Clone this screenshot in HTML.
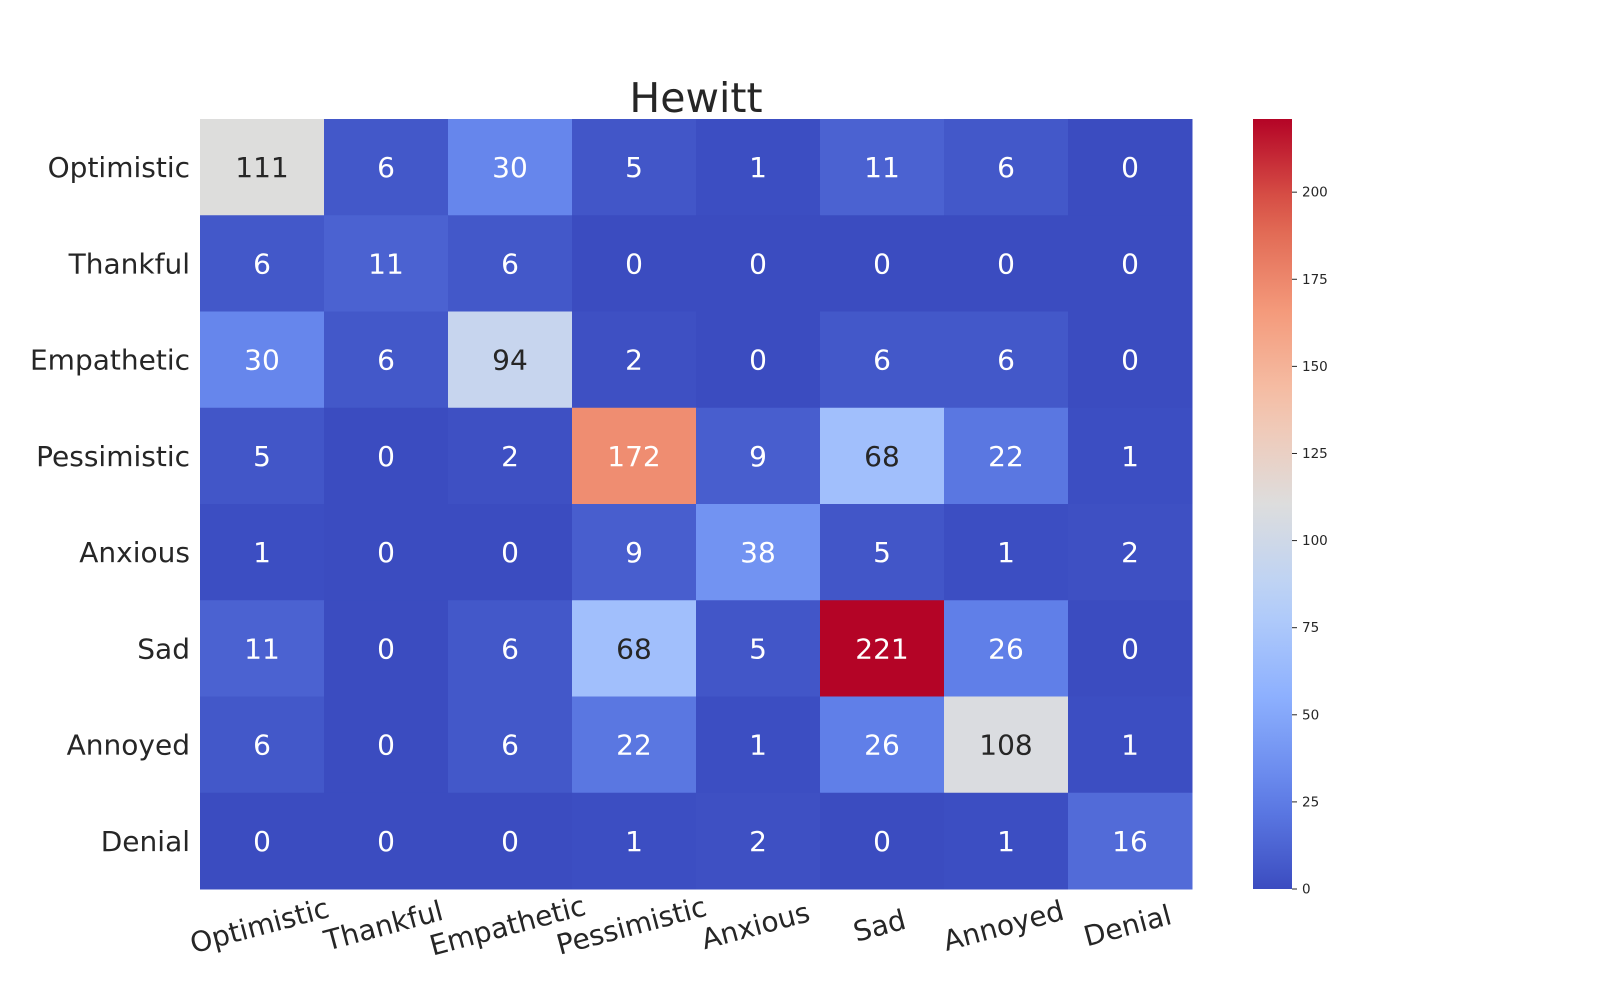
<!DOCTYPE html>
<html><head><meta charset="utf-8"><style>
html,body{margin:0;padding:0;background:#fff;}
svg text{font-family:"DejaVu Sans","Liberation Sans",sans-serif;fill:#262626;}
</style></head><body>
<svg id="chart" width="1600" height="1000" viewBox="0 0 1600 1000" xmlns="http://www.w3.org/2000/svg">
<text x="696" y="112" font-size="41" text-anchor="middle">Hewitt</text>
<g id="cells"></g>
<g id="ylabels"></g>
<g id="xlabels"></g>
<defs><linearGradient id="cbgrad" x1="0" y1="1" x2="0" y2="0"></linearGradient></defs>
<rect x="1253" y="119" width="39" height="770" fill="url(#cbgrad)"/>
<g id="cbticks"></g>
</svg>
<script>
const categories = ["Optimistic","Thankful","Empathetic","Pessimistic","Anxious","Sad","Annoyed","Denial"];
const matrix = [
[111,6,30,5,1,11,6,0],
[6,11,6,0,0,0,0,0],
[30,6,94,2,0,6,6,0],
[5,0,2,172,9,68,22,1],
[1,0,0,9,38,5,1,2],
[11,0,6,68,5,221,26,0],
[6,0,6,22,1,26,108,1],
[0,0,0,1,2,0,1,16]
];
const cbTicks = [0,25,50,75,100,125,150,175,200];
const vmin = 0, vmax = 221;

const NS = "http://www.w3.org/2000/svg";
const X0 = 200, X1 = 1192, Y0 = 119, Y1 = 889;
const n = categories.length;
const cw = (X1 - X0) / n, ch = (Y1 - Y0) / n;
const stops = [[59,76,192],[98,130,234],[141,176,254],[184,208,249],[221,221,221],[245,196,173],[244,154,123],[222,96,77],[180,4,38]];
function cmap(t){
  t = Math.max(0, Math.min(1, t));
  const p = t * (stops.length - 1), i = Math.min(Math.floor(p), stops.length - 2), f = p - i;
  return stops[i].map((c, k) => Math.round(c + (stops[i+1][k] - c) * f));
}
function lum(c){
  const l = c.map(v => { v /= 255; return v <= 0.03928 ? v / 12.92 : Math.pow((v + 0.055) / 1.055, 2.4); });
  return 0.2126*l[0] + 0.7152*l[1] + 0.0722*l[2];
}
function xPos(j){ return X0 + j * cw; }
function yPos(i){ return Y0 + i * ch; }
function cbY(v){ return Y1 - (v - vmin) / (vmax - vmin) * (Y1 - Y0); }

const cells = document.getElementById("cells");
matrix.forEach((row, i) => row.forEach((v, j) => {
  const c = cmap((v - vmin) / (vmax - vmin));
  const r = document.createElementNS(NS, "rect");
  r.setAttribute("x", xPos(j)); r.setAttribute("y", yPos(i));
  r.setAttribute("width", cw + 0.5); r.setAttribute("height", ch + 0.5);
  r.setAttribute("fill", `rgb(${c})`);
  
  
  cells.appendChild(r);
  const t = document.createElementNS(NS, "text");
  t.setAttribute("x", xPos(j) + cw / 2); t.setAttribute("y", yPos(i) + ch / 2 + 10);
  t.setAttribute("text-anchor", "middle"); t.setAttribute("font-size", "28");
  t.style.fill = lum(c) > 0.408 ? "#262626" : "#ffffff";
  t.textContent = v;
  
  
  cells.appendChild(t);
}));

const yl = document.getElementById("ylabels");
categories.forEach((name, i) => {
  const t = document.createElementNS(NS, "text");
  t.setAttribute("x", 190); t.setAttribute("y", yPos(i) + ch / 2 + 10);
  t.setAttribute("text-anchor", "end"); t.setAttribute("font-size", "28");
  t.textContent = name;
  
  
  yl.appendChild(t);
});
const xl = document.getElementById("xlabels");
categories.forEach((name, j) => {
  const t = document.createElementNS(NS, "text");
  const cx = xPos(j) + cw / 2, cy = 935;
  t.setAttribute("x", cx); t.setAttribute("y", cy);
  t.setAttribute("text-anchor", "middle"); t.setAttribute("font-size", "28");
  t.setAttribute("transform", `rotate(-15 ${cx} ${cy})`);
  t.textContent = name;
  
  
  xl.appendChild(t);
});

const grad = document.getElementById("cbgrad");
for (let k = 0; k <= 20; k++) {
  const s = document.createElementNS(NS, "stop");
  s.setAttribute("offset", k / 20);
  s.setAttribute("stop-color", `rgb(${cmap(k / 20)})`);
  grad.appendChild(s);
}
const cbt = document.getElementById("cbticks");
cbTicks.forEach(v => {
  const y = cbY(v);
  const l = document.createElementNS(NS, "line");
  l.setAttribute("x1", 1292); l.setAttribute("x2", 1297); l.setAttribute("y1", y); l.setAttribute("y2", y);
  l.setAttribute("stroke", "#262626"); l.setAttribute("stroke-width", "1");
  
  
  cbt.appendChild(l);
  const t = document.createElementNS(NS, "text");
  t.setAttribute("x", 1302); t.setAttribute("y", y + 4.5); t.setAttribute("font-size", "13.5");
  t.textContent = v;
  
  
  cbt.appendChild(t);
});
</script>
</body></html>
